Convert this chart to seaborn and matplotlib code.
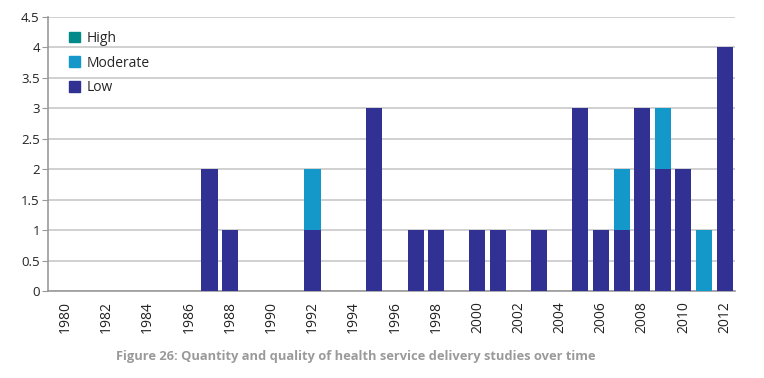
import numpy as np
import pandas as pd
import matplotlib
matplotlib.use('Agg')
import matplotlib.pyplot as plt
import seaborn as sns
from matplotlib.patches import Patch

# --- Data ---
years = [str(y) for y in range(1980, 2013)]
bar_years = ['1987', '1988', '1992', '1995', '1997', '1998', '2000', '2001',
             '2003', '2005', '2006', '2007', '2008', '2009', '2010', '2011', '2012']
low = [2, 1, 1, 3, 1, 1, 1, 1, 1, 3, 1, 1, 3, 2, 2, 0, 4]
moderate = [0, 0, 1, 0, 0, 0, 0, 0, 0, 0, 0, 1, 0, 1, 0, 1, 0]
high = [0] * len(bar_years)

yticks = [0, 0.5, 1, 1.5, 2, 2.5, 3, 3.5, 4, 4.5]
caption = 'Figure 26: Quantity and quality of health service delivery studies over time'

colors = {'High': '#018a89', 'Moderate': '#1398c9', 'Low': '#313193'}

df = pd.DataFrame({'year': bar_years, 'Low': low, 'Moderate': moderate, 'High': high})
df['low_mod'] = df['Low'] + df['Moderate']
df['total'] = df['low_mod'] + df['High']

sns.set_style('white')
plt.rcParams['font.family'] = ['Open Sans', 'DejaVu Sans']

fig = plt.figure(figsize=(7.64, 3.78), dpi=100)
ax = fig.add_axes([0.063, 0.230, 0.899, 0.725])

# stacked bars drawn back to front: total, low+moderate, low
for col, key in [('total', 'High'), ('low_mod', 'Moderate'), ('Low', 'Low')]:
    sns.barplot(data=df, x='year', y=col, order=years, color=colors[key],
                saturation=1, width=0.78, linewidth=0, ax=ax, zorder=3)

ax.set_xlim(-0.83, len(years) - 0.5)
ax.set_ylim(0, 4.5)
ax.set_yticks(yticks)
ax.set_yticklabels([f'{t:g}' for t in yticks], fontsize=9.5, color='#222222')
ax.yaxis.grid(True, color='#c8c8c8', linewidth=1.2, zorder=0)
ax.set_axisbelow(True)

ax.set_xticks(range(0, len(years), 2))
ax.set_xticklabels(years[::2], rotation=90, fontsize=10, color='#222222')
ax.set_xlabel('')
ax.set_ylabel('')

for s in ['top', 'right']:
    ax.spines[s].set_visible(False)
for s in ['left', 'bottom']:
    ax.spines[s].set_color('#999999')
    ax.spines[s].set_linewidth(1.2)
ax.tick_params(axis='y', left=True, length=4, color='#999999', pad=2)
ax.tick_params(axis='x', bottom=False, pad=4)

handles = [Patch(color=colors[k]) for k in ['High', 'Moderate', 'Low']]
ax.legend(handles, ['High', 'Moderate', 'Low'], loc='upper left',
          bbox_to_anchor=(0.012, 0.995), frameon=False, fontsize=10,
          handlelength=0.8, handleheight=0.8, handletextpad=0.5, labelspacing=0.7)

fig.text(0.466, 0.058, caption, ha='center', va='center', fontsize=9.3,
         fontweight='bold', color='#9a9a9a')

fig.savefig('out.png', dpi=100)
